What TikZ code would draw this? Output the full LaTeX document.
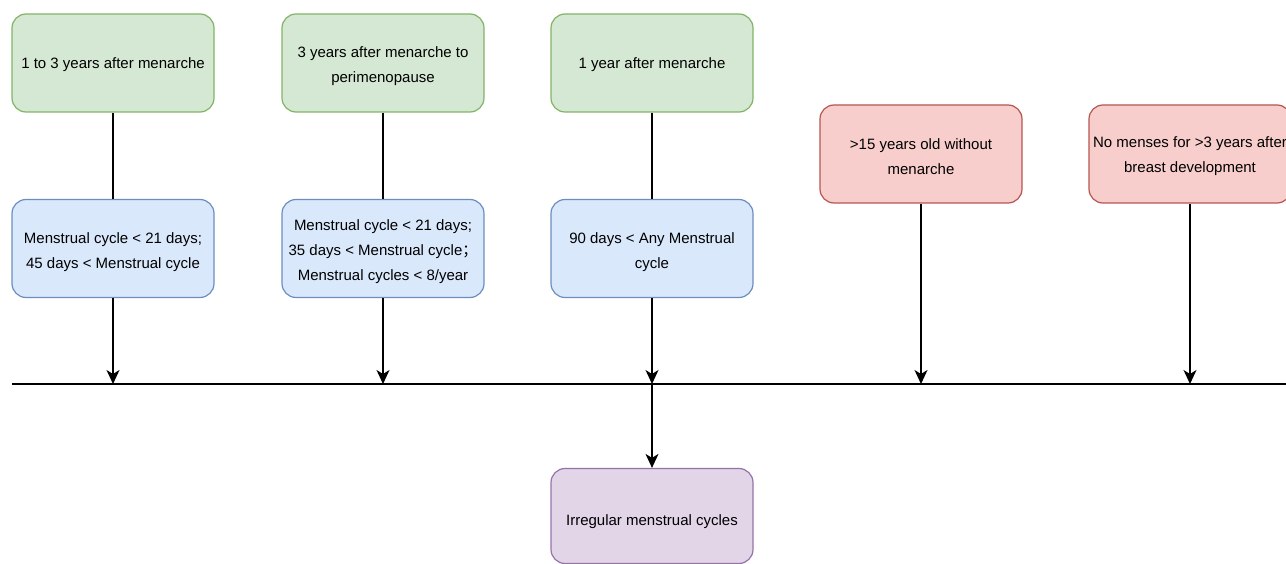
\documentclass[tikz,border=0pt]{standalone}
\usepackage{fontspec}
\setmainfont{Liberation Sans}
\newfontfamily\cjk{Noto Sans CJK SC}
\usetikzlibrary{arrows.meta}
\definecolor{gfill}{HTML}{D5E8D4}\definecolor{gline}{HTML}{82B366}
\definecolor{bfill}{HTML}{DAE8FC}\definecolor{bline}{HTML}{6C8EBF}
\definecolor{rfill}{HTML}{F8CECC}\definecolor{rline}{HTML}{B85450}
\definecolor{pfill}{HTML}{E1D5E7}\definecolor{pline}{HTML}{9673A6}
\tikzset{
  box/.style={rounded corners=14pt, line width=1.2pt, minimum width=202pt, minimum height=98pt,
    inner sep=0pt},
  gbox/.style={box, fill=gfill, draw=gline},
  bbox/.style={box, fill=bfill, draw=bline},
  rbox/.style={box, fill=rfill, draw=rline},
  pbox/.style={box, fill=pfill, draw=pline, minimum height=95pt},
  txt/.style={inner sep=0pt, align=center, font=\fontsize{15pt}{25pt}\selectfont},
  link/.style={line width=1.3pt},
  arr/.style={line width=1.3pt, -{Stealth[length=14pt,width=13pt,inset=4pt]}},
}
\begin{document}
\begin{tikzpicture}[x=1pt,y=-1pt]
\useasboundingbox (0,0) rectangle (1286,564);
\node[gbox] (g1) at (113,63) {};
\node[gbox] (g2) at (383,63) {};
\node[gbox] (g3) at (652,63) {};
\node[bbox] (b1) at (113,248.5) {};
\node[bbox] (b2) at (383,248.5) {};
\node[bbox] (b3) at (652,248.5) {};
\node[rbox] (r1) at (921,154) {};
\node[rbox] (r2) at (1190,154) {};
\node[pbox] (p) at (652,516) {};
\node[txt] (g1t) at ([yshift=-1.5pt]g1.center) {1 to 3 years after menarche};
\node[txt] (g2t) at ([yshift=-3pt]g2.center) {3 years after menarche to\\perimenopause};
\node[txt] (g3t) at ([yshift=-1.5pt]g3.center) {1 year after menarche};
\node[txt] (b1t) at ([yshift=-4pt]b1.center) {Menstrual cycle {\textless} 21 days;\\45 days {\textless} Menstrual cycle};
\node[txt] (b2t) at ([yshift=-3.5pt]b2.center) {Menstrual cycle {\textless} 21 days;\\35 days {\textless} Menstrual cycle{\cjk ；}\\Menstrual cycles {\textless} 8/year};
\node[txt] (b3t) at ([yshift=-4pt]b3.center) {90 days {\textless} Any Menstrual\\cycle};
\node[txt] (r1t) at ([yshift=-2.5pt]r1.center) {>15 years old without\\menarche};
\node[txt] (r2t) at ([yshift=-2.5pt]r2.center) {No menses for >3 years after\\breast development};
\node[txt] (pt) at ([yshift=-5.5pt]p.center) {Irregular menstrual cycles};
\coordinate (tl) at (12,384);
\coordinate (tr) at (1286,384);
\draw[link] (tl) -- (tr);
\coordinate (t1) at (113,384);
\coordinate (t2) at (383,384);
\coordinate (t3) at (652,384);
\coordinate (t4) at (921,384);
\coordinate (t5) at (1190,384);
\draw[link] (g1) -- (b1);
\draw[link] (g2) -- (b2);
\draw[link] (g3) -- (b3);
\draw[arr] (b1) -- (t1);
\draw[arr] (b2) -- (t2);
\draw[arr] (b3) -- (t3);
\draw[arr] (r1) -- (t4);
\draw[arr] (r2) -- (t5);
\draw[arr] (t3) -- (p);
\end{tikzpicture}
\end{document}
